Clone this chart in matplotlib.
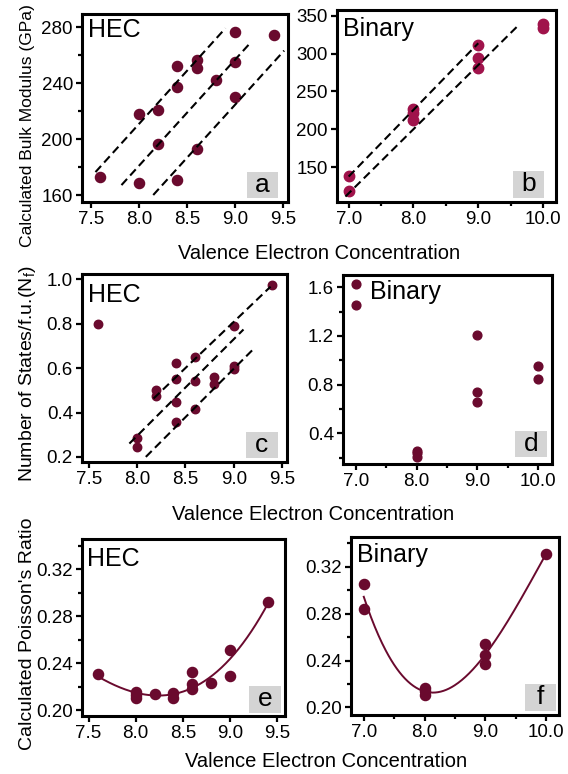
import numpy as np
import matplotlib.pyplot as plt
from matplotlib.patches import Rectangle

plt.rcParams['font.family'] = ['Liberation Sans', 'DejaVu Sans']
plt.rcParams['mathtext.fontset'] = 'custom'
plt.rcParams['mathtext.rm'] = 'Liberation Sans'

maroon = '#6a0a2e'
crimson = '#a0134b'
vec_label = 'Valence Electron Concentration'

# (a) HEC bulk modulus
hec_b_vec = [7.6, 8.0, 8.0, 8.2, 8.2, 8.4, 8.4, 8.4, 8.6, 8.6, 8.6, 8.8, 9.0, 9.0, 9.0, 9.4]
hec_b_val = [172.6, 168.3, 217.7, 220.8, 196.2, 252.6, 237.3, 170.5, 256.6, 250.6, 192.9,
             242.3, 276.4, 255.4, 230.4, 274.7]
hec_b_fits = [([7.55, 8.90], [176.4, 279.3]),
              ([7.82, 9.17], [167.1, 269.7]),
              ([8.15, 9.51], [160.0, 263.3])]

# (b) binary bulk modulus
bin_b_vec = [7.0, 7.0, 8.0, 8.0, 8.0, 9.0, 9.0, 9.0, 10.0, 10.0]
bin_b_val = [138.5, 118.0, 226.5, 221.0, 212.4, 311.3, 293.7, 280.5, 338.6, 333.3]
bin_b_fits = [([7.0, 9.0], [137.6, 313.6]),
              ([6.95, 9.64], [111.2, 339.0])]

# (c) HEC number of states at Ef
hec_n_vec = [7.6, 8.0, 8.0, 8.2, 8.2, 8.4, 8.4, 8.4, 8.4, 8.6, 8.6, 8.6, 8.8, 8.8,
             9.0, 9.0, 9.0, 9.4]
hec_n_val = [0.80, 0.283, 0.245, 0.501, 0.474, 0.621, 0.55, 0.448, 0.358, 0.648, 0.541,
             0.414, 0.558, 0.528, 0.789, 0.609, 0.594, 0.974]
hec_n_fits = [([8.17, 9.38], [0.463, 0.967]),
              ([7.92, 9.10], [0.260, 0.774]),
              ([8.09, 9.21], [0.200, 0.689])]

# (d) binary number of states
bin_n_vec = [7.0, 7.0, 8.0, 8.0, 8.0, 9.0, 9.0, 9.0, 10.0, 10.0]
bin_n_val = [1.625, 1.455, 0.258, 0.236, 0.203, 1.211, 0.737, 0.66, 0.951, 0.849]

# (e) HEC poisson ratio
hec_p_vec = [7.6, 8.0, 8.0, 8.0, 8.2, 8.4, 8.4, 8.6, 8.6, 8.6, 8.8, 9.0, 9.0, 9.4]
hec_p_val = [0.2307, 0.215, 0.2125, 0.2105, 0.2137, 0.2142, 0.2105, 0.2327, 0.2219,
             0.2176, 0.2233, 0.2512, 0.229, 0.2924]

# (f) binary poisson ratio
bin_p_vec = [7.0, 7.0, 8.0, 8.0, 8.0, 9.0, 9.0, 9.0, 10.0]
bin_p_val = [0.3052, 0.2837, 0.2165, 0.2136, 0.2108, 0.2542, 0.2448, 0.2369, 0.3313]

W, H = 568, 774
fig = plt.figure(figsize=(W / 100, H / 100), dpi=100)


def panel(l, t, r, b):
    ax = fig.add_axes([l / W, 1 - b / H, (r - l) / W, (b - t) / H])
    ax._px = (r - l, b - t)
    return ax


def style(ax, xlim, ylim, xticks, yticks, fmt_x, fmt_y, xminor=None, yminor=None):
    ax.set_xlim(xlim)
    ax.set_ylim(ylim)
    ax.set_xticks(xticks)
    ax.set_xticklabels([fmt_x % v for v in xticks])
    ax.set_yticks(yticks)
    ax.set_yticklabels([fmt_y % v for v in yticks])
    if xminor:
        ax.set_xticks(xminor, minor=True)
    if yminor:
        ax.set_yticks(yminor, minor=True)
    for s in ax.spines.values():
        s.set_linewidth(2.2)
    ax.tick_params(which='both', direction='out', top=False, right=False,
                   width=1.6, labelsize=13.5, pad=2)
    ax.tick_params(which='major', length=4.5)
    ax.tick_params(which='minor', length=3)


def tag(ax, name, x, y):
    ax.text(x, y, name, transform=ax.transAxes, ha='left', va='top', fontsize=18)


def letter(ax, ch, right, bottom):
    pw, ph = ax._px
    w, h = 31.5 / pw, 26.5 / ph
    x0 = 1 - right / pw - w
    y0 = bottom / ph
    ax.add_patch(Rectangle((x0, y0), w, h, transform=ax.transAxes,
                           facecolor='#d4d4d4', edgecolor='none', zorder=1))
    ax.text(x0 + w / 2, y0 + h / 2, ch, transform=ax.transAxes, ha='center',
            va='center', fontsize=19, zorder=2)


def dashed(ax, fits):
    for xs, ys in fits:
        ax.plot(xs, ys, color='k', lw=1.5, dashes=(4, 2.2), zorder=3)


# (a)
ax = panel(82, 14, 288, 202)
ax.plot(hec_b_vec, hec_b_val, 'o', color=maroon, ms=7.3, zorder=2)
dashed(ax, hec_b_fits)
style(ax, (7.41, 9.55), (155, 289.5), [7.5, 8.0, 8.5, 9.0, 9.5], [160, 200, 240, 280],
      '%.1f', '%d', yminor=[180, 220, 260])
tag(ax, 'HEC', 0.03, 0.977)
letter(ax, 'a', 10, 3.7)

# (b)
ax = panel(337, 10, 556, 202)
ax.plot(bin_b_vec, bin_b_val, 'o', color=crimson, ms=7.5, zorder=2)
dashed(ax, bin_b_fits)
style(ax, (6.82, 10.2), (104, 357.5), [7.0, 8.0, 9.0, 10.0], [150, 200, 250, 300, 350],
      '%.1f', '%d', xminor=[7.5, 8.5, 9.5])
tag(ax, 'Binary', 0.029, 0.965)
letter(ax, 'b', 12, 4.3)

# (c)
ax = panel(82, 274, 287, 462)
ax.plot(hec_n_vec, hec_n_val, 'o', color=maroon, ms=6.1, zorder=2)
dashed(ax, hec_n_fits)
style(ax, (7.43, 9.55), (0.177, 1.024), [7.5, 8.0, 8.5, 9.0, 9.5],
      [0.2, 0.4, 0.6, 0.8, 1.0], '%.1f', '%.1f')
tag(ax, 'HEC', 0.03, 0.954)
letter(ax, 'c', 9.3, 3.7)

# (d)
ax = panel(343, 275, 552, 464)
ax.plot(bin_n_vec, bin_n_val, 'o', color=maroon, ms=6.3, zorder=2)
style(ax, (6.79, 10.23), (0.148, 1.70), [7.0, 8.0, 9.0, 10.0], [0.4, 0.8, 1.2, 1.6],
      '%.1f', '%.1f', xminor=[7.5, 8.5, 9.5], yminor=[0.2, 0.6, 1.0, 1.4])
tag(ax, 'Binary', 0.129, 0.974)
letter(ax, 'd', 5.3, 6.7)

# (e)
ax = panel(82, 539, 285, 716)
ax.plot(hec_p_vec, hec_p_val, 'o', color=maroon, ms=7.3, zorder=2)
cf = np.polyfit(hec_p_vec, hec_p_val, 3)
xx = np.linspace(min(hec_p_vec), max(hec_p_vec), 200)
ax.plot(xx, np.polyval(cf, xx), color=maroon, lw=1.4, zorder=3)
style(ax, (7.43, 9.585), (0.195, 0.3456), [7.5, 8.0, 8.5, 9.0, 9.5],
      [0.20, 0.24, 0.28, 0.32], '%.1f', '%.2f', yminor=[0.22, 0.26, 0.30, 0.34])
tag(ax, 'HEC', 0.026, 0.957)
letter(ax, 'e', 4.3, 3.3)

# (f)
ax = panel(351, 537, 559, 715)
ax.plot(bin_p_vec, bin_p_val, 'o', color=maroon, ms=7.3, zorder=2)
cf = np.polyfit(bin_p_vec, bin_p_val, 3)
xx = np.linspace(min(bin_p_vec), max(bin_p_vec), 200)
ax.plot(xx, np.polyval(cf, xx), color=maroon, lw=1.4, zorder=3)
style(ax, (6.79, 10.21), (0.1935, 0.3455), [7.0, 8.0, 9.0, 10.0],
      [0.20, 0.24, 0.28, 0.32], '%.1f', '%.2f', xminor=[7.5, 8.5, 9.5],
      yminor=[0.22, 0.26, 0.30, 0.34])
tag(ax, 'Binary', 0.027, 0.965)
letter(ax, 'f', 3, 4.3)

# shared axis labels
for yb, fs, txt in [(247, 12.6, 'Calculated Bulk Modulus (GPa)'),
                    (482, 14, 'Number of States/f.u.(N$_\\mathrm{f}$)'),
                    (750, 14, "Calculated Poisson's Ratio")]:
    fig.text(28 / W, 1 - yb / H, txt, rotation=90, ha='center', va='bottom', fontsize=fs)
for xc, yt in [(319, 244), (313, 505), (326, 752)]:
    fig.text(xc / W, 1 - yt / H, vec_label, ha='center', va='top', fontsize=14.5)

fig.savefig('out.png', dpi=100)
